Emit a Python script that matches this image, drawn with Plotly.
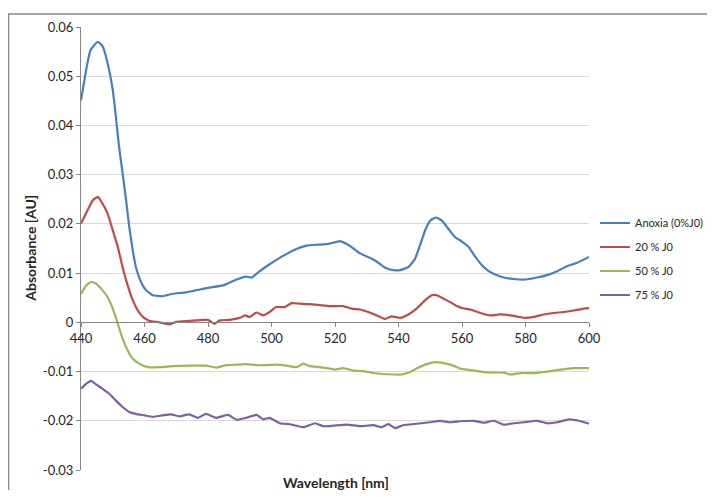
import plotly.graph_objects as go

# ---- data ----
anoxia_x = [440, 442, 443, 445.3, 446.8, 448.4, 450, 451, 452, 453.1, 454.2, 455.2, 456.3, 457.3, 458.9,
            460.5, 462.6, 465.7, 468.9, 473.1, 480, 484.7, 489, 492, 493.7, 496.3, 499.4, 502.6, 506.8,
            511, 515.2, 518.3, 521.6, 523.7, 525.8, 527.9, 531, 533.2, 535.8, 538.4, 540.5, 543.1, 545.2,
            546.8, 548.4, 550, 551.8, 553.6, 555.7, 557.8, 560, 562.1, 564.2, 566.3, 568.4, 570.5, 573.1,
            576.3, 580, 583.6, 586.8, 590, 593.1, 596.3, 600]
anoxia_y = [0.0451, 0.0526, 0.0553, 0.0570, 0.0561, 0.0526, 0.0472, 0.0417, 0.0356, 0.0303, 0.0248, 0.0194,
            0.0146, 0.0112, 0.0082, 0.0065, 0.0055, 0.0053, 0.0058, 0.0061, 0.0070, 0.0075, 0.0087, 0.0093,
            0.0091, 0.0104, 0.0118, 0.0131, 0.0146, 0.0156, 0.0158, 0.0160, 0.0165, 0.0159, 0.0150, 0.0140,
            0.0131, 0.0123, 0.0111, 0.0106, 0.0106, 0.0112, 0.0129, 0.0157, 0.0187, 0.0207, 0.0213, 0.0207,
            0.0190, 0.0173, 0.0164, 0.0153, 0.0133, 0.0116, 0.0104, 0.0097, 0.0091, 0.0088, 0.0087, 0.0091,
            0.0096, 0.0104, 0.0114, 0.0121, 0.0133]

j20_x = [440, 442.1, 443.7, 445.3, 446.8, 448.4, 450, 451.6, 453.1, 454.7, 456.3, 457.9, 459.5, 461.5,
         464.7, 467.9, 470, 474.2, 478.4, 480, 482.1, 483.7, 486.8, 490, 491.6, 493.1, 495.3, 497.4, 499.4,
         501.5, 504.2, 506.3, 508.9, 512, 515.2, 518.3, 520, 522.6, 525.2, 527.9, 530.5, 533.2, 535.8,
         537.9, 540.5, 543.1, 545.7, 548.4, 550.5, 552.1, 554.2, 556.3, 558.4, 560, 562.6, 565.8, 568.9,
         572.1, 575.3, 577.9, 580, 582.6, 585.7, 588.9, 592.1, 595.3, 598.4, 600]
j20_y = [0.0201, 0.0228, 0.0248, 0.0255, 0.0241, 0.0221, 0.0187, 0.0153, 0.0112, 0.0075, 0.0045, 0.0024,
         0.0011, 0.0003, 0.0000, -0.0004, 0.0001, 0.0003, 0.0005, 0.0005, -0.0003, 0.0004, 0.0005, 0.0009,
         0.0014, 0.0011, 0.0020, 0.0014, 0.0021, 0.0031, 0.0031, 0.0039, 0.0038, 0.0037, 0.0035, 0.0033,
         0.0033, 0.0033, 0.0028, 0.0026, 0.0021, 0.0014, 0.0007, 0.0012, 0.0009, 0.0016, 0.0028, 0.0045,
         0.0055, 0.0055, 0.0048, 0.0041, 0.0033, 0.0029, 0.0026, 0.0019, 0.0014, 0.0016, 0.0014, 0.0011,
         0.0009, 0.0011, 0.0016, 0.0019, 0.0021, 0.0024, 0.0028, 0.0029]

j50_x = [440, 441.6, 443.2, 444.7, 446.8, 448.4, 450, 451.6, 453.1, 454.7, 456.3, 458.4, 461, 464.7, 468.9,
         474.2, 479.4, 482.6, 485.8, 489, 492, 495.3, 498.4, 501.5, 504.7, 507.9, 510, 512.1, 515.2, 518.4,
         520, 522.6, 525.8, 528.9, 532.1, 535.3, 538.4, 541, 543.6, 546.3, 548.9, 551.5, 554.2, 556.8,
         559.4, 563.7, 566.8, 570, 573.1, 575.3, 578.4, 582.6, 586.8, 591, 595.3, 600]
j50_y = [0.0058, 0.0075, 0.0082, 0.0079, 0.0065, 0.0051, 0.0028, -0.0003, -0.0033, -0.0057, -0.0074, -0.0084,
         -0.0091, -0.0091, -0.0089, -0.0088, -0.0088, -0.0092, -0.0087, -0.0086, -0.0085, -0.0087, -0.0087,
         -0.0086, -0.0088, -0.0091, -0.0084, -0.0089, -0.0091, -0.0094, -0.0096, -0.0093, -0.0098, -0.0099,
         -0.0103, -0.0105, -0.0106, -0.0106, -0.0101, -0.0092, -0.0085, -0.0081, -0.0083, -0.0087, -0.0094,
         -0.0098, -0.0101, -0.0102, -0.0102, -0.0106, -0.0103, -0.0103, -0.0100, -0.0096, -0.0093, -0.0093]

j75_x = [440, 441.6, 443.2, 444.7, 446.8, 448.9, 451, 453.1, 455.2, 457.3, 460, 462.6, 465.7, 468.3, 471,
         474.1, 476.8, 479.4, 482.6, 486.3, 489, 492, 495.3, 497.4, 499.4, 502.6, 505.8, 510, 513.7, 516.3,
         519.4, 523.7, 527.9, 532.1, 534.7, 536.8, 538.9, 541.5, 545.7, 550, 553.1, 556.3, 559.4, 563.7,
         566.8, 570, 573.1, 576.3, 579.5, 583.7, 586.8, 590, 593.7, 596.8, 600]
j75_y = [-0.0135, -0.0125, -0.0119, -0.0126, -0.0135, -0.0145, -0.0159, -0.0172, -0.0182, -0.0186, -0.0189,
         -0.0192, -0.0189, -0.0187, -0.0191, -0.0187, -0.0194, -0.0186, -0.0194, -0.0188, -0.0198, -0.0194,
         -0.0188, -0.0197, -0.0194, -0.0205, -0.0207, -0.0213, -0.0205, -0.0211, -0.0210, -0.0208, -0.0211,
         -0.0209, -0.0213, -0.0207, -0.0215, -0.0209, -0.0206, -0.0203, -0.0200, -0.0203, -0.0201, -0.0200,
         -0.0204, -0.0200, -0.0208, -0.0205, -0.0203, -0.0200, -0.0205, -0.0203, -0.0197, -0.0200, -0.0206]

series_names = ["Anoxia (0%J0)", "20 % J0", "50 % J0", "75 % J0"]
series_colors = ["#4A7EBB", "#BE4B48", "#98B954", "#7D60A0"]

x_ticks = [440, 460, 480, 500, 520, 540, 560, 580, 600]
y_ticks = [0.06, 0.05, 0.04, 0.03, 0.02, 0.01, 0, -0.01, -0.02, -0.03]
y_ticktext = ["0.06", "0.05", "0.04", "0.03", "0.02", "0.01", "0", "-0.01", "-0.02", "-0.03"]

FONT = "Lato, 'Open Sans', sans-serif"
TXT = "#262626"
AXIS = "#868686"

W, H = 699, 482  # page body adds an 8px margin on every side

fig = go.Figure()
for i, (xs, ys) in enumerate([(anoxia_x, anoxia_y), (j20_x, j20_y), (j50_x, j50_y), (j75_x, j75_y)]):
    fig.add_trace(go.Scatter(x=xs, y=ys, mode="lines", name=series_names[i],
                             legendgroup=f"g{i}",
                             line=dict(color=series_colors[i], width=2.2, shape="spline", smoothing=0.4)))

fig.update_layout(
    width=W, height=H,
    margin=dict(l=73, r=118, t=19, b=20, autoexpand=False),
    paper_bgcolor="white", plot_bgcolor="white",
    font=dict(family=FONT, size=13, color=TXT),
    showlegend=True,
    legend=dict(xref="container", yref="container", x=587 / W, xanchor="left",
                y=1 - 251 / H, yanchor="middle",
                font=dict(family=FONT, size=11, color=TXT),
                tracegroupgap=5, itemwidth=30, bgcolor="rgba(0,0,0,0)"),
    xaxis=dict(range=[440, 600], tickvals=x_ticks, showgrid=False, zeroline=False,
               showline=True, linecolor=AXIS, linewidth=1,
               ticks="outside", ticklen=4, tickcolor=AXIS,
               anchor="free", position=1/3,
               tickfont=dict(family=FONT, size=13, color=TXT)),
    yaxis=dict(range=[-0.03, 0.06], tickvals=y_ticks, ticktext=y_ticktext,
               showgrid=True, gridcolor="#D9D9D9", gridwidth=1, zeroline=False,
               showline=True, linecolor=AXIS, linewidth=1,
               ticks="outside", ticklen=4, tickcolor=AXIS,
               tickfont=dict(family=FONT, size=13, color=TXT)),
    annotations=[
        dict(text="<b>Wavelength [nm]</b>", xref="paper", yref="paper", x=0.502, y=-0.029,
             xanchor="center", yanchor="middle", showarrow=False,
             font=dict(family=FONT, size=14, color=TXT)),
        dict(text="<b>Absorbance [AU]</b>", xref="paper", yref="paper", x=-0.1, y=0.5,
             xanchor="center", yanchor="middle", showarrow=False, textangle=-90,
             font=dict(family=FONT, size=14, color=TXT)),
    ],
    shapes=[dict(type="rect", xref="paper", yref="paper", x0=-0.1427, x1=1.27, y0=-0.1, y1=1.0293,
                 line=dict(color=AXIS, width=1.5), fillcolor="rgba(0,0,0,0)", layer="below")],
)

fig.write_html("out.html")
